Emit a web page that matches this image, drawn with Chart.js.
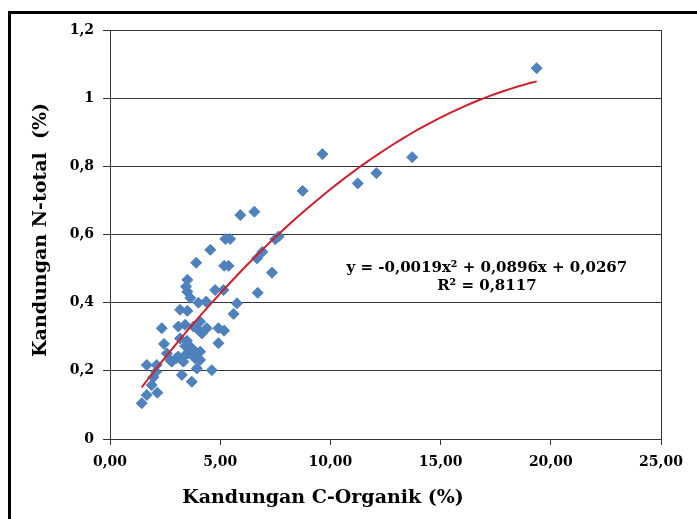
<!DOCTYPE html>
<html>
<head>
<meta charset="utf-8">
<script src="https://cdn.jsdelivr.net/npm/chart.js@4/dist/chart.umd.min.js"></script>
<style>
  html, body { margin: 0; padding: 0; background: #fff; overflow: hidden; }
  #wrap { position: relative; width: 697px; height: 519px; }
  #frame { position: absolute; left: 8px; top: 11px; width: 760px; height: 560px; border: 3px solid #000; }
  #chart { position: absolute; left: 0; top: 0; }
</style>
</head>
<body>
<div id="wrap">
  <div id="frame"></div>
  <canvas id="chart" width="697" height="519"></canvas>
</div>
<script>
// Kandungan C-Organik (%) tiap sampel
const cOrganik = [
  1.44, 1.67, 2.15, 1.67, 1.89, 1.97, 2.09, 2.12, 2.35, 2.45,
  2.58, 2.73, 2.80, 3.00, 3.10, 3.26, 3.71, 3.94, 4.62, 3.33,
  3.86, 4.09, 3.18, 3.41, 3.49, 3.64, 3.79, 3.94, 4.09, 3.41,
  3.56, 3.10, 3.41, 3.79, 4.01, 4.17, 4.09, 4.39, 4.92, 5.18,
  4.92, 3.18, 3.51, 3.51, 3.45, 3.51, 3.64, 4.01, 4.36, 4.77,
  5.15, 5.76, 5.61, 6.70, 7.35, 3.91, 4.55, 5.18, 5.38, 5.23,
  5.45, 6.67, 6.91, 7.50, 7.65, 5.91, 6.55, 8.74, 9.64, 11.24,
  12.09, 13.71, 19.36
];
// Kandungan N-total (%) tiap sampel
const nTotal = [
  0.105, 0.129, 0.136, 0.217, 0.158, 0.181, 0.197, 0.217, 0.325, 0.279,
  0.251, 0.232, 0.227, 0.237, 0.242, 0.188, 0.168, 0.207, 0.202, 0.227,
  0.237, 0.232, 0.295, 0.273, 0.288, 0.271, 0.261, 0.251, 0.256, 0.246,
  0.251, 0.330, 0.335, 0.330, 0.320, 0.310, 0.344, 0.325, 0.325, 0.318,
  0.281, 0.379, 0.376, 0.432, 0.447, 0.467, 0.414, 0.400, 0.403, 0.437,
  0.437, 0.398, 0.367, 0.429, 0.488, 0.517, 0.555, 0.508, 0.508, 0.587,
  0.587, 0.530, 0.549, 0.586, 0.594, 0.657, 0.667, 0.728, 0.836, 0.750,
  0.780, 0.827, 1.088
];

// trendline polinomial orde 2: a*x^2 + b*x + c
const trendCoef = [-0.0019, 0.0896, 0.0267];
const trendRange = [1.44, 19.36];
const eqLabel = 'y = -0,0019x\u00B2 + 0,0896x + 0,0267';
const r2Label = 'R\u00B2 = 0,8117';

const xTitle = 'Kandungan C-Organik (%)';
const yTitle = 'Kandungan N-total  (%)';

const points = cOrganik.map((v, i) => ({ x: v, y: nTotal[i] }));

const trend = [];
const steps = 60;
for (let i = 0; i <= steps; i++) {
  const xv = trendRange[0] + (trendRange[1] - trendRange[0]) * i / steps;
  trend.push({ x: xv, y: trendCoef[0] * xv * xv + trendCoef[1] * xv + trendCoef[2] });
}

const serif = '"DejaVu Serif", serif';

// judul sumbu dan persamaan trendline
const textLayer = {
  id: 'textLayer',
  afterDraw(chart) {
    const { ctx, scales: { x, y } } = chart;
    ctx.save();
    ctx.fillStyle = '#000';
    ctx.textAlign = 'center';
    ctx.textBaseline = 'middle';

    ctx.font = 'bold 15px ' + serif;
    const ex = x.getPixelForValue(17.1);
    ctx.fillText(eqLabel, ex, y.getPixelForValue(0.502));
    ctx.fillText(r2Label, ex, y.getPixelForValue(0.449));

    ctx.font = 'bold 19px ' + serif;
    ctx.fillText(xTitle, 323, 498);

    ctx.translate(41, 230);
    ctx.rotate(-Math.PI / 2);
    ctx.fillText(yTitle, 0, 0);
    ctx.restore();
  }
};

new Chart(document.getElementById('chart'), {
  type: 'scatter',
  data: {
    datasets: [
      {
        label: 'N-total',
        data: points,
        pointStyle: 'rectRot',
        pointRadius: 5.5,
        backgroundColor: '#4f81bd',
        borderColor: '#4f81bd',
        borderWidth: 1,
        order: 2
      },
      {
        type: 'line',
        label: 'Poly. (N-total)',
        data: trend,
        borderColor: '#cc1f2a',
        borderWidth: 2,
        pointRadius: 0,
        fill: false,
        tension: 0,
        order: 1
      }
    ]
  },
  plugins: [textLayer],
  options: {
    responsive: false,
    animation: false,
    layout: { padding: { top: 30, right: 36, left: 0, bottom: 0 } },
    plugins: { legend: { display: false }, tooltip: { enabled: false } },
    scales: {
      x: {
        type: 'linear',
        min: 0,
        max: 25,
        afterFit: s => { s.height = 80; },
        ticks: {
          stepSize: 5,
          padding: 9,
          color: '#000',
          font: { family: serif, size: 14, weight: 'bold' },
          callback: v => v.toFixed(2).replace('.', ',')
        },
        grid: {
          color: c => (c.tick && c.tick.value === 25 ? '#333' : 'rgba(0,0,0,0)'),
          tickColor: '#333',
          tickLength: 6
        },
        border: { color: '#333', width: 1 }
      },
      y: {
        min: 0,
        max: 1.2,
        afterFit: s => { s.width = 110; },
        ticks: {
          stepSize: 0.2,
          padding: 9,
          color: '#000',
          font: { family: serif, size: 14, weight: 'bold' },
          callback: v => String(Math.round(v * 10) / 10).replace('.', ',')
        },
        grid: { color: '#333', tickColor: '#333', tickLength: 7 },
        border: { color: '#333', width: 1 }
      }
    }
  }
});
</script>
</body>
</html>
